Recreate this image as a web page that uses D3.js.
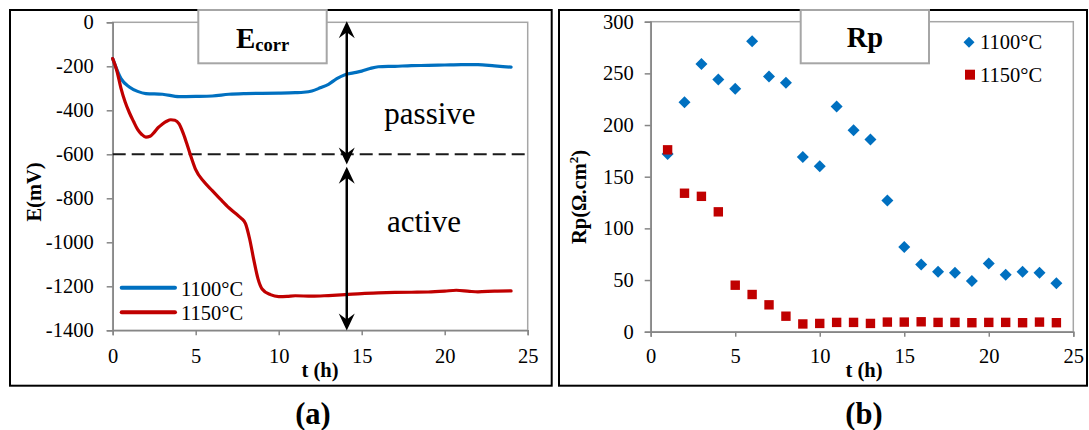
<!DOCTYPE html>
<html>
<head>
<meta charset="utf-8">
<script src="https://cdn.jsdelivr.net/npm/d3@7"></script>
<style>
  html, body { margin: 0; padding: 0; background: #fff; }
  svg { display: block; font-family: "Liberation Serif", "Times New Roman", serif; }
</style>
</head>
<body>
<svg id="chart" width="1089" height="430"></svg>
<script>
// ---------------- DATA ----------------
const seriesNames = ["1100°C", "1150°C"];

// Panel (a): Ecorr vs time
const tE1100 = [0, 0.5, 1, 1.5, 2, 3, 4, 5, 6, 7, 8, 9, 10, 11, 11.5, 12, 12.5, 13, 13.5, 14, 14.5, 15, 15.5, 16, 17, 18, 19, 20, 21, 22, 23, 24];
const E1100  = [-165, -256, -294, -314, -324, -327, -338, -337, -335, -327, -324, -323, -322, -320, -318, -312, -298, -282, -256, -238, -230, -222, -210, -202, -200, -197, -196, -194, -192, -192, -198, -204];

const tE1150 = [0, 0.25, 0.5, 0.75, 1, 1.25, 1.5, 1.75, 2, 2.25, 2.5, 2.75, 3, 3.25, 3.5, 3.75, 4, 4.25, 4.5, 4.75, 5, 5.5, 6, 6.5, 7, 7.5, 7.75, 8, 8.25, 8.5, 8.75, 9, 9.5, 10, 10.5, 11, 12, 13, 14, 15, 16, 17, 18, 19, 20, 20.7, 21.5, 22, 23, 24];
const E1150  = [-165, -220, -300, -362, -410, -450, -487, -510, -522, -518, -500, -478, -462, -450, -443, -445, -462, -505, -560, -618, -670, -725, -765, -805, -843, -875, -891, -915, -985, -1080, -1165, -1212, -1238, -1247, -1246, -1243, -1245, -1242, -1238, -1233, -1230, -1228, -1227, -1226, -1222, -1218, -1223, -1225, -1222, -1221];

// Panel (b): Rp vs time
const tRp = [1, 2, 3, 4, 5, 6, 7, 8, 9, 10, 11, 12, 13, 14, 15, 16, 17, 18, 19, 20, 21, 22, 23, 24];
const Rp1100 = [172, 222, 259, 244, 235, 281, 247, 241, 169, 160, 218, 195, 186, 127, 82, 65, 58, 57, 49, 66, 55, 58, 57, 47];
const Rp1150 = [176, 134, 131, 116, 45, 36, 26, 15, 7.5, 8, 9, 9, 8, 9.3, 9.3, 9.6, 9, 9, 8.7, 9, 9, 8.7, 9.3, 8.7];

const xTicks = [0, 5, 10, 15, 20, 25];
const yTicksE = [0, -200, -400, -600, -800, -1000, -1200, -1400];
const yTicksRp = [0, 50, 100, 150, 200, 250, 300];

const passiveLimit = -600;     // dashed boundary (mV)
const arrowT = 14.1;           // time of the annotation arrows (h)

// ---------------- STYLE ----------------
const BLUE = "#0070C0", RED = "#C00000";
const AXIS = "#868686", BORDER = "#a6a6a6";
const FS = "20.5px";

const svg = d3.select("#chart");
svg.append("rect").attr("width", 1089).attr("height", 430).attr("fill", "#fff");

// outer frames
svg.append("rect").attr("x", 10).attr("y", 10).attr("width", 541.7).attr("height", 375.7)
  .attr("fill", "none").attr("stroke", "#000").attr("stroke-width", 2);
svg.append("rect").attr("x", 559).attr("y", 10).attr("width", 528).attr("height", 375.7)
  .attr("fill", "none").attr("stroke", "#000").attr("stroke-width", 2);

function styleAxis(g) {
  g.select(".domain").attr("stroke", AXIS).attr("stroke-width", 1.5);
  g.selectAll(".tick line").attr("stroke", AXIS).attr("stroke-width", 1.5);
  g.selectAll(".tick text").attr("fill", "#000").style("font-size", FS)
    .style("font-family", '"Liberation Serif", serif');
}

// ================= PANEL (a) =================
const xL = d3.scaleLinear().domain([0, 25]).range([112.7, 527.7]);
const yL = d3.scaleLinear().domain([-1400, 0]).range([330.3, 22.3]);

// plot border
svg.append("rect").attr("x", xL(0)).attr("y", yL(0)).attr("width", xL(25) - xL(0)).attr("height", yL(-1400) - yL(0))
  .attr("fill", "none").attr("stroke", BORDER).attr("stroke-width", 1.5);

svg.append("g").attr("transform", `translate(0,${yL(-1400)})`)
  .call(d3.axisBottom(xL).tickValues(xTicks).tickSize(5).tickPadding(13.4).tickFormat(d => String(d)))
  .call(styleAxis);
svg.append("g").attr("transform", `translate(${xL(0)},0)`)
  .call(d3.axisLeft(yL).tickValues(yTicksE).tickSize(6).tickPadding(13).tickFormat(d => String(d)))
  .call(styleAxis);

// dashed boundary
svg.append("line").attr("x1", xL(0)).attr("x2", xL(25)).attr("y1", yL(passiveLimit)).attr("y2", yL(passiveLimit))
  .attr("stroke", "#1a1a1a").attr("stroke-width", 2).attr("stroke-dasharray", "13,6");

const lineL = d3.line().x(d => xL(d[0])).y(d => yL(d[1])).curve(d3.curveMonotoneX);
svg.append("path").datum(tE1100.map((t, i) => [t, E1100[i]])).attr("d", lineL)
  .attr("fill", "none").attr("stroke", BLUE).attr("stroke-width", 3.2).attr("stroke-linejoin", "round").attr("stroke-linecap", "round");
svg.append("path").datum(tE1150.map((t, i) => [t, E1150[i]])).attr("d", lineL)
  .attr("fill", "none").attr("stroke", RED).attr("stroke-width", 3.2).attr("stroke-linejoin", "round").attr("stroke-linecap", "round");

// arrows
function arrowHead(x, y, dir) {
  // dir = 1 : pointing down ; -1 : pointing up
  return `M${x},${y} L${x - 8},${y - dir * 17} L${x},${y - dir * 11} L${x + 8},${y - dir * 17} Z`;
}
const ax = xL(arrowT);
const upTop = yL(0) - 1, upBot = 164.5, loTop = 166.8, loBot = yL(-1400) + 0.3;
[[upTop, upBot], [loTop, loBot]].forEach(([a, b]) => {
  svg.append("line").attr("x1", ax).attr("x2", ax).attr("y1", a + 6).attr("y2", b - 6)
    .attr("stroke", "#000").attr("stroke-width", 2.5);
  svg.append("path").attr("d", arrowHead(ax, a, -1)).attr("fill", "#000");
  svg.append("path").attr("d", arrowHead(ax, b, 1)).attr("fill", "#000");
});

svg.append("text").attr("x", 430).attr("y", 124).attr("text-anchor", "middle")
  .style("font-size", "31px").text("passive");
svg.append("text").attr("x", 424).attr("y", 231.7).attr("text-anchor", "middle")
  .style("font-size", "31px").text("active");

// legend (a)
const legL = [{ c: BLUE, y: 287.7, ty: 295.7 }, { c: RED, y: 312.3, ty: 320 }];
legL.forEach((l, i) => {
  svg.append("line").attr("x1", 121.7).attr("x2", 175).attr("y1", l.y).attr("y2", l.y)
    .attr("stroke", l.c).attr("stroke-width", 4).attr("stroke-linecap", "round");
  svg.append("text").attr("x", 181).attr("y", l.ty).style("font-size", FS).text(seriesNames[i]);
});

// axis titles (a)
svg.append("text").attr("x", 320).attr("y", 377).attr("text-anchor", "middle")
  .style("font-size", "20.5px").style("font-weight", "bold").text("t (h)");
svg.append("text").attr("transform", "translate(41,192) rotate(-90)").attr("text-anchor", "middle")
  .style("font-size", "20.5px").style("font-weight", "bold").text("E(mV)");

// title box (a)
svg.append("rect").attr("x", 198.3).attr("y", 10).attr("width", 128.4).attr("height", 53.3)
  .attr("fill", "#fff").attr("stroke", BORDER).attr("stroke-width", 2);
const tA = svg.append("text").attr("x", 262.5).attr("y", 48.3).attr("text-anchor", "middle")
  .style("font-weight", "bold");
tA.append("tspan").style("font-size", "29px").text("E");
tA.append("tspan").style("font-size", "18.5px").attr("dy", 3).text("corr");

svg.append("text").attr("x", 313).attr("y", 424).attr("text-anchor", "middle")
  .style("font-size", "30.5px").style("font-weight", "bold").text("(a)");

// ================= PANEL (b) =================
const xR = d3.scaleLinear().domain([0, 25]).range([650.7, 1073.3]);
const yR = d3.scaleLinear().domain([0, 300]).range([331.7, 21.7]);

svg.append("rect").attr("x", xR(0)).attr("y", yR(300)).attr("width", xR(25) - xR(0)).attr("height", yR(0) - yR(300))
  .attr("fill", "none").attr("stroke", BORDER).attr("stroke-width", 1.5);

svg.append("g").attr("transform", `translate(0,${yR(0)})`)
  .call(d3.axisBottom(xR).tickValues(xTicks).tickSize(5).tickPadding(12).tickFormat(d => String(d)))
  .call(styleAxis);
svg.append("g").attr("transform", `translate(${xR(0)},0)`)
  .call(d3.axisLeft(yR).tickValues(yTicksRp).tickSize(6).tickPadding(11).tickFormat(d => String(d)))
  .call(styleAxis);

const diamond = (cx, cy, r) => `M${cx},${cy - r} L${cx + r},${cy} L${cx},${cy + r} L${cx - r},${cy} Z`;

svg.append("g").selectAll("path").data(tRp.map((t, i) => [t, Rp1100[i]])).join("path")
  .attr("d", d => diamond(xR(d[0]), yR(d[1]), 6)).attr("fill", BLUE);
svg.append("g").selectAll("rect").data(tRp.map((t, i) => [t, Rp1150[i]])).join("rect")
  .attr("x", d => xR(d[0]) - 4.7).attr("y", d => yR(d[1]) - 4.7).attr("width", 9.4).attr("height", 9.4)
  .attr("fill", RED);

// legend (b)
svg.append("path").attr("d", diamond(969, 42.3, 5.5)).attr("fill", BLUE);
svg.append("text").attr("x", 980).attr("y", 49.3).style("font-size", FS).text(seriesNames[0]);
svg.append("rect").attr("x", 965).attr("y", 69.7).attr("width", 10).attr("height", 10).attr("fill", RED);
svg.append("text").attr("x", 980).attr("y", 81.7).style("font-size", FS).text(seriesNames[1]);

// axis titles (b)
svg.append("text").attr("x", 864).attr("y", 377).attr("text-anchor", "middle")
  .style("font-size", "20.5px").style("font-weight", "bold").text("t (h)");
const rpT = svg.append("text").attr("transform", "translate(586,197) rotate(-90)").attr("text-anchor", "middle")
  .style("font-size", "20.5px").style("font-weight", "bold");
rpT.append("tspan").text("Rp(Ω.cm");
rpT.append("tspan").attr("dy", -8).style("font-size", "13px").text("2");
rpT.append("tspan").attr("dy", 8).text(")");

// title box (b)
svg.append("rect").attr("x", 800.7).attr("y", 10).attr("width", 128.3).attr("height", 53.3)
  .attr("fill", "#fff").attr("stroke", BORDER).attr("stroke-width", 2);
svg.append("text").attr("x", 865).attr("y", 46.7).attr("text-anchor", "middle")
  .style("font-size", "28.5px").style("font-weight", "bold").text("Rp");

svg.append("text").attr("x", 864).attr("y", 424).attr("text-anchor", "middle")
  .style("font-size", "30.5px").style("font-weight", "bold").text("(b)");
</script>
</body>
</html>
